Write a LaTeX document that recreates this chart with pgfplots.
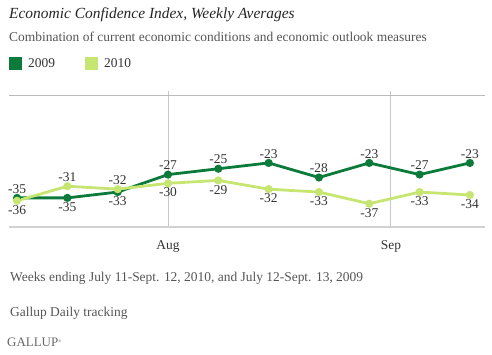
\documentclass[border=0pt]{standalone}
\usepackage{fontspec}
\setmainfont{Liberation Serif}
\usepackage{pgfplots}
\pgfplotsset{compat=1.18}
\definecolor{dk}{HTML}{0B7A3A}
\definecolor{lt}{HTML}{C6E671}
\definecolor{txt}{HTML}{333333}
\definecolor{sub}{HTML}{555555}

\begin{document}
\begin{tikzpicture}
\useasboundingbox (0,0) rectangle (492bp,-355bp);
\node[anchor=west, inner sep=0, font=\fontsize{15.5}{17}\selectfont\itshape, text=black!85] at (9bp,-15bp) {Economic Confidence Index, Weekly Averages};
\node[anchor=west, inner sep=0, font=\fontsize{13.5}{16}\selectfont, text=sub] at (9bp,-37bp) {Combination of current economic conditions and economic outlook measures};
\fill[dk] (9bp,-57bp) rectangle (22bp,-70bp);
\node[anchor=west, inner sep=0, font=\fontsize{13.5}{15}\selectfont, text=txt] at (28bp,-63.5bp) {2009};
\fill[lt] (85bp,-57bp) rectangle (98bp,-70bp);
\node[anchor=west, inner sep=0, font=\fontsize{13.5}{15}\selectfont, text=txt] at (104bp,-63.5bp) {2010};
\node[anchor=west, inner sep=0, font=\fontsize{13.5}{16}\selectfont, text=sub] at (10bp,-278bp) {Weeks ending July 11-Sept. 12, 2010, and July 12-Sept. 13, 2009};
\node[anchor=west, inner sep=0, font=\fontsize{13.5}{16}\selectfont, text=sub] at (10bp,-313bp) {Gallup Daily tracking};
\node[anchor=west, inner sep=0, font=\fontsize{13}{15}\selectfont, text=black!60] at (7bp,-342bp) {GALLUP\raisebox{0.6ex}{\fontsize{4}{4}\selectfont\textregistered}};

\begin{axis}[
  at={(9bp,-227bp)}, anchor=south west,
  scale only axis, width=476bp, height=136bp,
  xmin=-0.16, xmax=9.3, ymin=-45, ymax=1.7,
  axis line style={draw=none},
  tick style={draw=none},
  xtick={3,7.43}, xticklabels={Aug,Sep},
  xticklabel style={font=\fontsize{13.5}{15}\selectfont, text=txt, yshift=-10bp},
  xmajorgrids,
  major grid style={draw=black!22, line width=1bp},
  ytick=\empty,
  extra y ticks={0}, extra y tick labels={},
  extra y tick style={grid=major, major grid style={draw=black!27, line width=1bp}},
  clip=false,
  lab/.style={draw=none, mark=none, forget plot, nodes near coords, point meta=explicit symbolic,
    every node near coord/.append style={font=\fontsize{13.5}{15}\selectfont, text=txt, anchor=#1, inner sep=4.5bp}},
]
\draw[black!18, line width=2bp] (rel axis cs:0,0) -- (rel axis cs:1,0);
% 2009
\addplot[dk, line width=2.8bp, mark=*, mark size=2.6bp, mark options={fill=dk, draw=dk}]
  coordinates {(0,-35) (1,-35) (2,-33) (3,-27) (4,-25) (5,-23) (6,-28) (7,-23) (8,-27) (9,-23)};
% 2010
\addplot[lt, line width=2.8bp, mark=*, mark size=2.6bp, mark options={fill=lt, draw=lt}]
  coordinates {(0,-36) (1,-31) (2,-32) (3,-30) (4,-29) (5,-32) (6,-33) (7,-37) (8,-33) (9,-34)};
% labels 2009
\addplot[lab=south] coordinates {(0,-35) [-35] (3,-27) [-27] (4,-25) [-25] (5,-23) [-23] (6,-28) [-28] (7,-23) [-23] (8,-27) [-27] (9,-23) [-23]};
\addplot[lab=north] coordinates {(1,-35) [-35] (2,-33) [-33]};
% labels 2010
\addplot[lab=south] coordinates {(1,-31) [-31] (2,-32) [-32]};
\addplot[lab=north] coordinates {(0,-36) [-36] (3,-30) [-30] (4,-29) [-29] (5,-32) [-32] (6,-33) [-33] (7,-37) [-37] (8,-33) [-33] (9,-34) [-34]};
\end{axis}
\end{tikzpicture}
\end{document}
